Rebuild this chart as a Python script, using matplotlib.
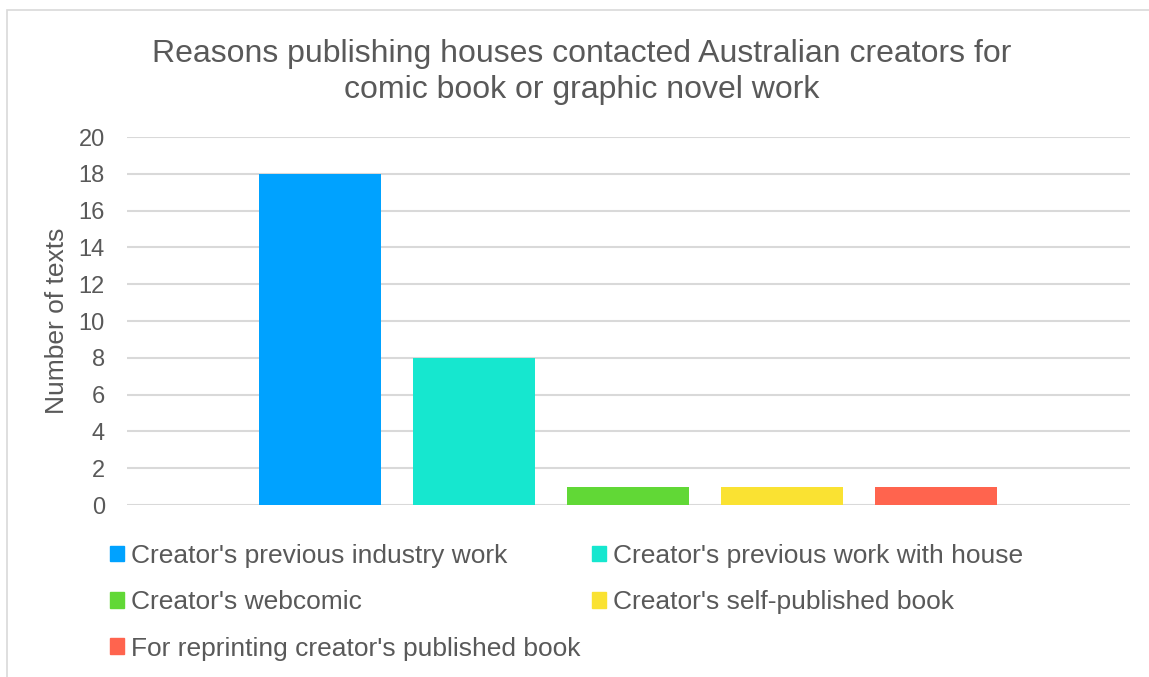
import matplotlib.pyplot as plt
from matplotlib.patches import Rectangle

plt.rcParams['font.family'] = ['Liberation Sans', 'DejaVu Sans']

# Data
reasons = [
    "Creator's previous industry work",
    "Creator's previous work with house",
    "Creator's webcomic",
    "Creator's self-published book",
    "For reprinting creator's published book",
]
counts = [18, 8, 1, 1, 1]
colors = ["#00A2FF", "#16E7CF", "#61D836", "#FAE232", "#FF644E"]
yticks = list(range(0, 21, 2))

W, H = 1149, 677
text_col = "#595959"
grid_col = "#d9d9d9"

fig = plt.figure(figsize=(W / 100, H / 100), dpi=100)

# Chart border (light gray frame)
fig.patches.append(Rectangle((7 / W, -0.05), 1.1, 1 - 10 / H + 0.05,
                             transform=fig.transFigure, fill=False,
                             edgecolor=grid_col, linewidth=1.2))

ax = fig.add_axes([127 / W, (H - 505) / H, (1130 - 127) / W, (505 - 137) / H])

x = list(range(len(counts)))
bars = ax.bar(x, counts, width=0.792, color=colors, zorder=2)

ax.set_xlim(-1.253, 5.26)
ax.set_ylim(0, 20)
ax.set_yticks(yticks)
ax.set_xticks([])
ax.tick_params(axis='y', length=0, pad=16, labelsize=17, labelcolor=text_col)
for s in ax.spines.values():
    s.set_visible(False)
ax.grid(axis='y', color=grid_col, linewidth=1.5, zorder=0)
ax.set_axisbelow(True)
ax.set_ylabel("Number of texts", fontsize=19, color=text_col, labelpad=6.5)

# Title
fig.text(582 / W, 1 - 54 / H, "Reasons publishing houses contacted Australian creators for",
         ha='center', va='center', fontsize=23, color=text_col)
fig.text(582 / W, 1 - 90 / H, "comic book or graphic novel work",
         ha='center', va='center', fontsize=23, color=text_col)

# Legend (row-wise order like the original)
order = [0, 2, 4, 1, 3]
handles = [Rectangle((0, 0), 1, 1, color=colors[i]) for i in order]
labels = [reasons[i] for i in order]
fig.legend(handles, labels, ncol=2, loc='upper left',
           bbox_to_anchor=(86 / W, 1 - 520 / H), frameon=False,
           fontsize=19, labelcolor=text_col, handlelength=0.53, handleheight=0.53,
           handletextpad=0.27, columnspacing=0.45, labelspacing=0.85)

fig.savefig("out.png", dpi=100)
